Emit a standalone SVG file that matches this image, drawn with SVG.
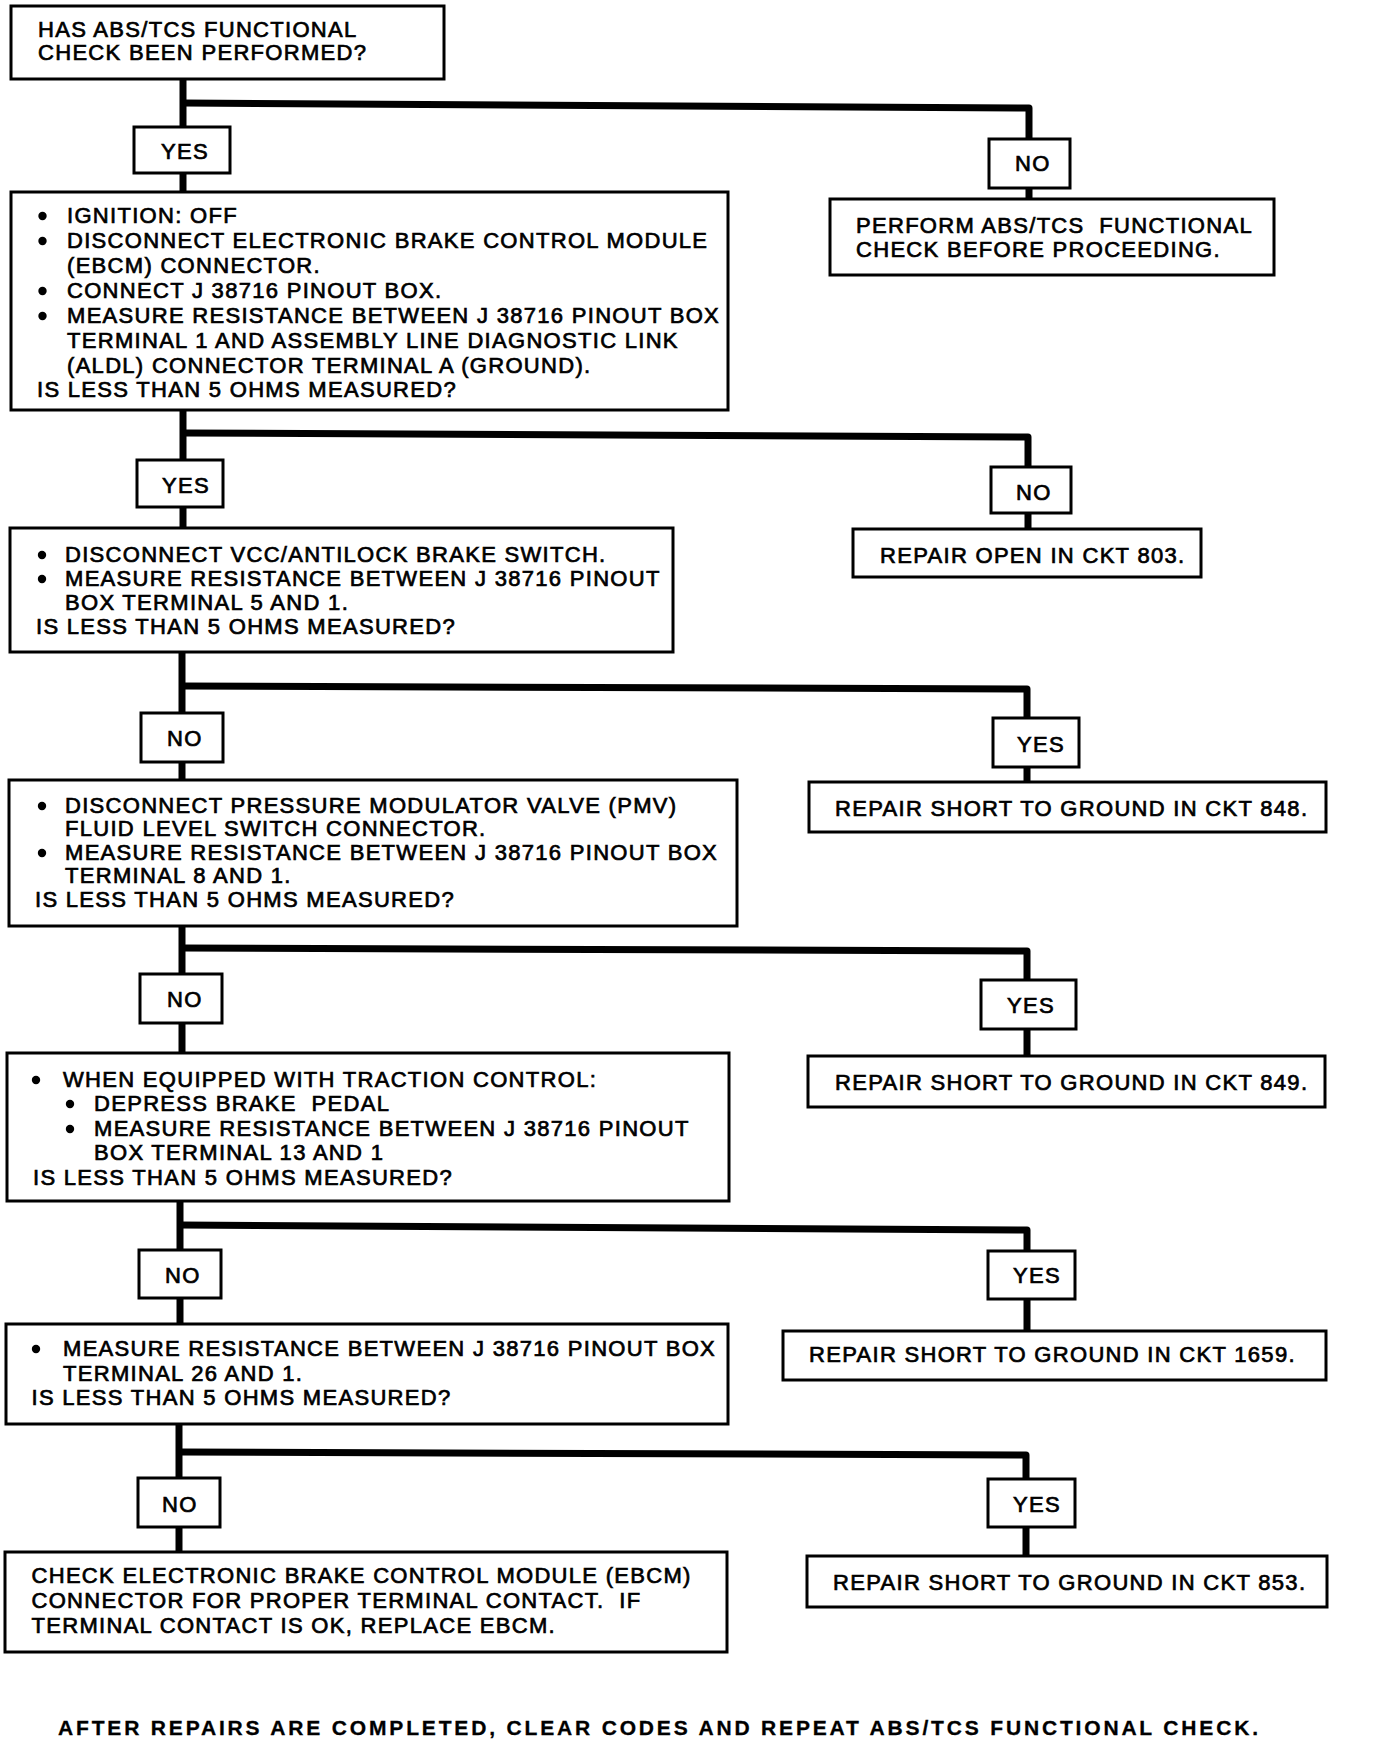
<svg xmlns="http://www.w3.org/2000/svg" width="1376" height="1742" viewBox="0 0 1376 1742">
<style>
.bg{fill:#fff}
.box{fill:#fff;stroke:#000;stroke-width:3}
.con{fill:none;stroke:#000;stroke-width:7;stroke-linejoin:round;stroke-linecap:butt}
.dot{fill:#000}
text{font-family:"Liberation Sans",Arial,Helvetica,sans-serif;font-size:22px;letter-spacing:1.3px;fill:#000;stroke:#000;stroke-width:0.7px;white-space:pre}
.foot{font-weight:bold;font-size:21px;letter-spacing:0;stroke-width:0.3px}
</style>
<defs>
<circle id="bullet" class="dot" cx="0" cy="0" r="4.2"/>
</defs>
<rect class="bg" x="0" y="0" width="1376" height="1742"/>
<g id="connectors">
<path class="con" d="M183 79V192"/>
<path class="con" d="M183 410V528"/>
<path class="con" d="M182 652V780"/>
<path class="con" d="M182 926V1053"/>
<path class="con" d="M180 1201V1324"/>
<path class="con" d="M179 1424V1552"/>
<path class="con" d="M183 103L1029 108V199"/>
<path class="con" d="M183 433L1028 437V529"/>
<path class="con" d="M182 686L1027 689V782"/>
<path class="con" d="M182 948L1027 951V1056"/>
<path class="con" d="M180 1225L1027 1230V1331"/>
<path class="con" d="M179 1452L1026 1455V1556"/>
</g>
<g id="q1">
<rect class="box" x="11" y="6" width="433" height="73"/>
<text x="38" y="37">HAS ABS/TCS FUNCTIONAL</text>
<text x="38" y="60">CHECK BEEN PERFORMED?</text>
</g>
<g id="l1yes"><rect class="box" x="134" y="127" width="96" height="46"/><text x="161" y="159">YES</text></g>
<g id="r1no"><rect class="box" x="989" y="139" width="81" height="49"/><text x="1015" y="171">NO</text></g>
<g id="perform">
<rect class="box" x="830" y="199" width="444" height="76"/>
<text x="856" y="233">PERFORM ABS/TCS  FUNCTIONAL</text>
<text x="856" y="257">CHECK BEFORE PROCEEDING.</text>
</g>
<g id="q2">
<rect class="box" x="11" y="192" width="717" height="218"/>
<use href="#bullet" x="42.5" y="216"/>
<text x="67" y="223">IGNITION: OFF</text>
<use href="#bullet" x="42.5" y="241"/>
<text x="67" y="248">DISCONNECT ELECTRONIC BRAKE CONTROL MODULE</text>
<text x="67" y="273">(EBCM) CONNECTOR.</text>
<use href="#bullet" x="42.5" y="291"/>
<text x="67" y="298">CONNECT J 38716 PINOUT BOX.</text>
<use href="#bullet" x="42.5" y="316"/>
<text x="67" y="323">MEASURE RESISTANCE BETWEEN J 38716 PINOUT BOX</text>
<text x="67" y="348">TERMINAL 1 AND ASSEMBLY LINE DIAGNOSTIC LINK</text>
<text x="67" y="373">(ALDL) CONNECTOR TERMINAL A (GROUND).</text>
<text x="37" y="397">IS LESS THAN 5 OHMS MEASURED?</text>
</g>
<g id="l2yes"><rect class="box" x="137" y="460" width="86" height="47"/><text x="162" y="493">YES</text></g>
<g id="r2no"><rect class="box" x="991" y="467" width="80" height="46"/><text x="1016" y="500">NO</text></g>
<g id="open803">
<rect class="box" x="853" y="529" width="348" height="48"/>
<text x="880" y="563">REPAIR OPEN IN CKT 803.</text>
</g>
<g id="q3">
<rect class="box" x="10" y="528" width="663" height="124"/>
<use href="#bullet" x="42" y="555"/>
<text x="65" y="562">DISCONNECT VCC/ANTILOCK BRAKE SWITCH.</text>
<use href="#bullet" x="42" y="579"/>
<text x="65" y="586">MEASURE RESISTANCE BETWEEN J 38716 PINOUT</text>
<text x="65" y="610">BOX TERMINAL 5 AND 1.</text>
<text x="36" y="634">IS LESS THAN 5 OHMS MEASURED?</text>
</g>
<g id="l3no"><rect class="box" x="141" y="713" width="82" height="49"/><text x="167" y="746">NO</text></g>
<g id="r3yes"><rect class="box" x="993" y="718" width="86" height="49"/><text x="1017" y="752">YES</text></g>
<g id="short848">
<rect class="box" x="809" y="782" width="517" height="50"/>
<text x="835" y="816">REPAIR SHORT TO GROUND IN CKT 848.</text>
</g>
<g id="q4">
<rect class="box" x="9" y="780" width="728" height="146"/>
<use href="#bullet" x="42" y="806"/>
<text x="65" y="813">DISCONNECT PRESSURE MODULATOR VALVE (PMV)</text>
<text x="65" y="836">FLUID LEVEL SWITCH CONNECTOR.</text>
<use href="#bullet" x="42" y="853"/>
<text x="65" y="860">MEASURE RESISTANCE BETWEEN J 38716 PINOUT BOX</text>
<text x="65" y="883">TERMINAL 8 AND 1.</text>
<text x="35" y="907">IS LESS THAN 5 OHMS MEASURED?</text>
</g>
<g id="l4no"><rect class="box" x="140" y="974" width="82" height="49"/><text x="167" y="1007">NO</text></g>
<g id="r4yes"><rect class="box" x="981" y="980" width="95" height="49"/><text x="1007" y="1013">YES</text></g>
<g id="short849">
<rect class="box" x="808" y="1056" width="517" height="51"/>
<text x="835" y="1090">REPAIR SHORT TO GROUND IN CKT 849.</text>
</g>
<g id="q5">
<rect class="box" x="7" y="1053" width="722" height="148"/>
<use href="#bullet" x="36" y="1080"/>
<text x="63" y="1087">WHEN EQUIPPED WITH TRACTION CONTROL:</text>
<use href="#bullet" x="70" y="1104"/>
<text x="94" y="1111">DEPRESS BRAKE  PEDAL</text>
<use href="#bullet" x="70" y="1129"/>
<text x="94" y="1136">MEASURE RESISTANCE BETWEEN J 38716 PINOUT</text>
<text x="94" y="1160">BOX TERMINAL 13 AND 1</text>
<text x="33" y="1185">IS LESS THAN 5 OHMS MEASURED?</text>
</g>
<g id="l5no"><rect class="box" x="139" y="1250" width="82" height="48"/><text x="165" y="1283">NO</text></g>
<g id="r5yes"><rect class="box" x="988" y="1251" width="87" height="48"/><text x="1013" y="1283">YES</text></g>
<g id="short1659">
<rect class="box" x="783" y="1331" width="543" height="49"/>
<text x="809" y="1362">REPAIR SHORT TO GROUND IN CKT 1659.</text>
</g>
<g id="q6">
<rect class="box" x="6" y="1324" width="722" height="100"/>
<use href="#bullet" x="36" y="1349"/>
<text x="63" y="1356">MEASURE RESISTANCE BETWEEN J 38716 PINOUT BOX</text>
<text x="63" y="1381">TERMINAL 26 AND 1.</text>
<text x="31.5" y="1405">IS LESS THAN 5 OHMS MEASURED?</text>
</g>
<g id="l6no"><rect class="box" x="138" y="1478" width="82" height="49"/><text x="162" y="1512">NO</text></g>
<g id="r6yes"><rect class="box" x="988" y="1479" width="87" height="48"/><text x="1013" y="1512">YES</text></g>
<g id="short853">
<rect class="box" x="807" y="1556" width="520" height="51"/>
<text x="833" y="1590">REPAIR SHORT TO GROUND IN CKT 853.</text>
</g>
<g id="final">
<rect class="box" x="5" y="1552" width="722" height="100"/>
<text x="31.5" y="1583">CHECK ELECTRONIC BRAKE CONTROL MODULE (EBCM)</text>
<text x="31.5" y="1608">CONNECTOR FOR PROPER TERMINAL CONTACT.  IF</text>
<text x="31.5" y="1633">TERMINAL CONTACT IS OK, REPLACE EBCM.</text>
</g>
<g id="footer">
<text class="foot" x="58" y="1735" textLength="1200" lengthAdjust="spacing">AFTER REPAIRS ARE COMPLETED, CLEAR CODES AND REPEAT ABS/TCS FUNCTIONAL CHECK.</text>
</g>
</svg>
